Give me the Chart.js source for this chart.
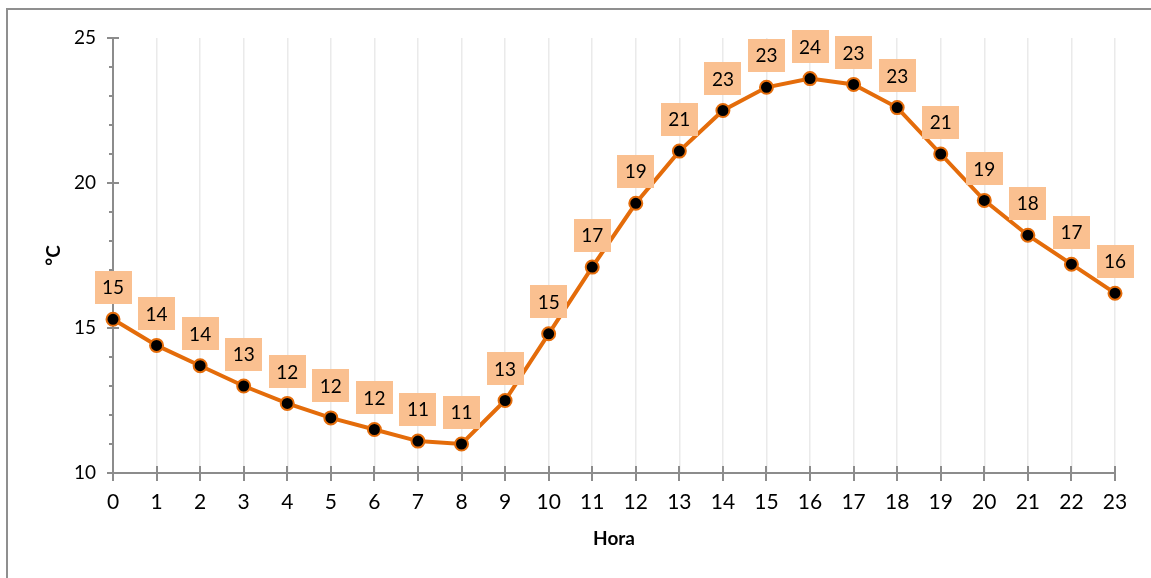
<!DOCTYPE html>
<html>
<head>
<meta charset="utf-8">
<script src="https://cdn.jsdelivr.net/npm/chart.js@4/dist/chart.umd.min.js"></script>
<style>
  html, body { margin: 0; padding: 0; background: #ffffff; }
  #wrap { position: relative; width: 1151px; height: 578px; }
  canvas { display: block; }
</style>
</head>
<body>
<div id="wrap"><canvas id="chart" width="1151" height="578"></canvas></div>
<script>
// Hourly temperature profile
const hours = [0, 1, 2, 3, 4, 5, 6, 7, 8, 9, 10, 11, 12, 13, 14, 15, 16, 17, 18, 19, 20, 21, 22, 23];
const temperature = [15.3, 14.4, 13.7, 13.0, 12.4, 11.9, 11.5, 11.1, 11.0, 12.5, 14.8, 17.1,
                     19.3, 21.1, 22.5, 23.3, 23.6, 23.4, 22.6, 21.0, 19.4, 18.2, 17.2, 16.2];
const yMin = 10;
const yMax = 25;
const yMajorStep = 5;
const xTitle = 'Hora';
const yTitle = '°C';

const FONT = 'Lato, "Open Sans", "Liberation Sans", sans-serif';
const AXIS_GRAY = '#8c8c8c';
const LINE_ORANGE = '#E46C0A';
const LABEL_FILL = '#FAC090';

// Frame around the chart object (its right and bottom edges fall outside the page)
const framePlugin = {
  id: 'frame',
  beforeDraw(chart) {
    const ctx = chart.ctx;
    ctx.save();
    ctx.strokeStyle = '#8f8f8f';
    ctx.lineWidth = 2;
    ctx.beginPath();
    ctx.moveTo(7, chart.height + 2);
    ctx.lineTo(7, 9);
    ctx.lineTo(chart.width + 2, 9);
    ctx.stroke();
    ctx.restore();
  }
};

// Cross tick marks on the category axis, major/minor marks on the value axis
const tickMarksPlugin = {
  id: 'tickMarks',
  beforeDatasetsDraw(chart) {
    const ctx = chart.ctx;
    const xs = chart.scales.x;
    const ys = chart.scales.y;
    const area = chart.chartArea;
    ctx.save();
    ctx.strokeStyle = AXIS_GRAY;
    ctx.lineWidth = 2;
    ctx.beginPath();
    hours.forEach(h => {
      const px = Math.round(xs.getPixelForValue(h));
      ctx.moveTo(px, area.bottom - 7);
      ctx.lineTo(px, area.bottom + 8);
    });
    for (let v = yMin; v <= yMax; v++) {
      const py = Math.round(ys.getPixelForValue(v));
      if (v % yMajorStep === 0) {
        ctx.moveTo(area.left - 6, py);
        ctx.lineTo(area.left + 6, py);
      } else {
        ctx.moveTo(area.left - 4, py);
        ctx.lineTo(area.left, py);
      }
    }
    ctx.stroke();
    ctx.restore();
  }
};

// Value labels in filled boxes above each point
const valueLabelPlugin = {
  id: 'valueLabels',
  afterDatasetsDraw(chart) {
    const ctx = chart.ctx;
    const meta = chart.getDatasetMeta(0);
    const values = chart.data.datasets[0].data;
    ctx.save();
    ctx.font = '19px ' + FONT;
    ctx.textAlign = 'center';
    ctx.textBaseline = 'middle';
    meta.data.forEach((pt, i) => {
      const w = 37, h = 33;
      const cx = pt.x;
      const cy = pt.y - 32;
      ctx.fillStyle = LABEL_FILL;
      ctx.fillRect(Math.round(cx - w / 2), Math.round(cy - h / 2), w, h);
      ctx.fillStyle = '#000000';
      ctx.fillText(String(Math.round(values[i].y)), cx, cy + 1);
    });
    ctx.restore();
  }
};

new Chart(document.getElementById('chart'), {
  type: 'line',
  data: {
    datasets: [{
      data: hours.map((h, i) => ({ x: h, y: temperature[i] })),
      borderColor: LINE_ORANGE,
      borderWidth: 4,
      pointRadius: 6.5,
      pointBackgroundColor: '#000000',
      pointBorderColor: LINE_ORANGE,
      pointBorderWidth: 2,
      tension: 0,
      fill: false,
      clip: false
    }]
  },
  plugins: [framePlugin, tickMarksPlugin, valueLabelPlugin],
  options: {
    responsive: false,
    animation: false,
    devicePixelRatio: 1,
    layout: { padding: { top: 38, right: 36, left: 0, bottom: 0 } },
    plugins: {
      legend: { display: false },
      tooltip: { enabled: false }
    },
    scales: {
      x: {
        type: 'linear',
        min: hours[0],
        max: hours[hours.length - 1],
        afterFit(scale) { scale.height = 105; },
        ticks: {
          stepSize: 1,
          autoSkip: false,
          maxRotation: 0,
          padding: 17,
          color: '#000000',
          font: { family: FONT, size: 21 }
        },
        grid: {
          color: '#eaeaea',
          lineWidth: 1.5,
          drawTicks: false
        },
        border: { display: true, color: AXIS_GRAY, width: 2 },
        title: {
          display: true,
          text: xTitle,
          color: '#000000',
          font: { family: FONT, size: 19, weight: 'bold' },
          padding: { top: 0, bottom: 28 }
        }
      },
      y: {
        type: 'linear',
        min: yMin,
        max: yMax,
        afterFit(scale) { scale.width = 113; },
        ticks: {
          stepSize: 1,
          autoSkip: false,
          padding: 17,
          color: '#000000',
          font: { family: FONT, size: 19 },
          callback: v => (v % yMajorStep === 0 ? String(v) : '')
        },
        grid: { display: false, drawTicks: false },
        border: { display: true, color: AXIS_GRAY, width: 2 },
        title: {
          display: true,
          text: yTitle,
          color: '#000000',
          font: { family: FONT, size: 19, weight: 'bold' },
          padding: { top: 42, bottom: 0 }
        }
      }
    }
  }
});
</script>
</body>
</html>
